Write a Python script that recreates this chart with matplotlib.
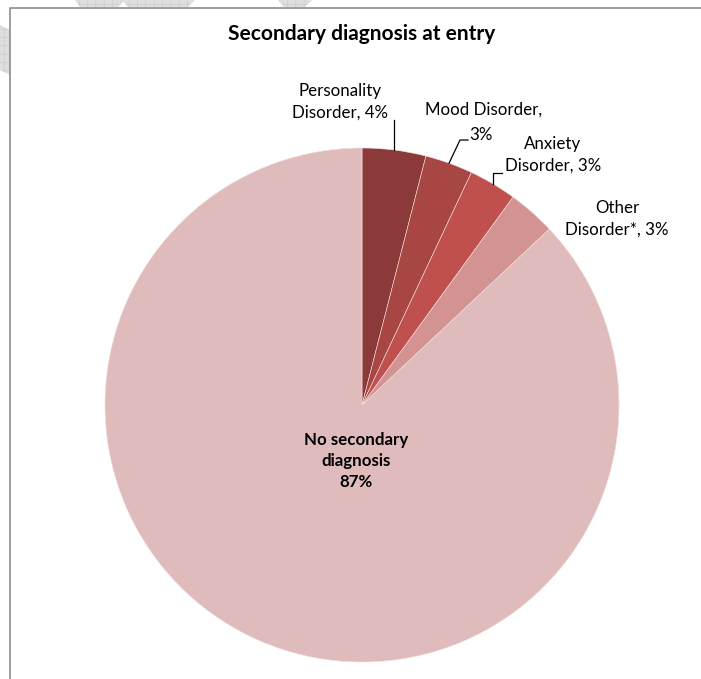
import numpy as np
import matplotlib.pyplot as plt
from matplotlib.patches import Polygon

# secondary diagnosis shares (%)
categories = ["Personality\nDisorder", "Mood Disorder,\n", "Anxiety\nDisorder", "Other\nDisorder*", "No secondary\ndiagnosis"]
values = [4, 3, 3, 3, 87]
colors = ["#8c3a39", "#a84644", "#c0504d", "#d39393", "#e0bbbb"]

plt.rcParams['font.family'] = ['Lato', 'DejaVu Sans']
plt.rcParams['hatch.linewidth'] = 0.3
plt.rcParams['hatch.color'] = '#c4c4c4'

W, H = 701, 679
fig = plt.figure(figsize=(W / 100, H / 100), dpi=100)
ax = fig.add_axes([0, 0, 1, 1])

# faint background pattern above the chart frame
for pts in [[(75, 0), (125, 0), (118, 7), (80, 7)],
            [(122, 0), (195, 0), (188, 7), (128, 7)],
            [(278, 0), (312, 0), (305, 7), (284, 7)],
            [(0, 25), (10, 30), (10, 75), (0, 70)]]:
    ax.add_patch(Polygon([(x, H - y) for x, y in pts], closed=True,
                         facecolor='#dedede', hatch='++', lw=0))

# chart frame (runs off the right and bottom edges)
ax.plot([10, 10, W + 5], [-5, H - 7.5, H - 7.5], color='#8c8c8c', lw=1.2)

cx, cy, r = 362, H - 405, 257
wedges, _ = ax.pie(values, colors=colors, startangle=90, counterclock=False,
                   center=(cx, cy), radius=r, frame=True,
                   wedgeprops=dict(edgecolor='#f2dede', linewidth=0.4))
ax.set_xlim(0, W)
ax.set_ylim(0, H)
ax.set_aspect('equal')
ax.axis('off')

ax.text(362, H - 34, "Secondary diagnosis at entry", ha='center', va='center',
        fontsize=15, fontweight='bold')

# edge point at the middle of each wedge
cum = np.cumsum([0] + values[:-1])
mid = [(c + v / 2) / 100 * 2 * np.pi for c, v in zip(cum, values)]
edge = [(cx + r * np.sin(a), cy + r * np.cos(a)) for a in mid]

fs = 12.2
ls = 1.4
# Personality
ax.text(340, H - 102, f"Personality\nDisorder, {values[0]}%", ha='center', va='center',
        fontsize=fs, linespacing=ls)
ax.plot([edge[0][0], edge[0][0]], [edge[0][1], H - 120], color='black', lw=0.9)
# Mood
ax.text(484, H - 110, "Mood Disorder,", ha='center', va='center', fontsize=fs)
ax.text(481, H - 135, f"{values[1]}%", ha='center', va='center', fontsize=fs)
ax.plot([edge[1][0], 460, 468], [edge[1][1], H - 140, H - 140], color='black', lw=0.9)
# Anxiety
ax.text(553, H - 155, f"Anxiety\nDisorder, {values[2]}%", ha='center', va='center',
        fontsize=fs, linespacing=ls)
ax.plot([edge[2][0], edge[2][0], 502], [edge[2][1], H - 173, H - 173], color='black', lw=0.9)
# Other
ax.text(617, H - 219, f"Other\nDisorder*, {values[3]}%", ha='center', va='center',
        fontsize=fs, linespacing=ls)

# main slice label
ax.text(356, H - 461, f"No secondary\ndiagnosis\n{values[4]}%", ha='center', va='center',
        fontsize=fs, fontweight='bold', linespacing=ls)

plt.savefig('out.png', dpi=100)
